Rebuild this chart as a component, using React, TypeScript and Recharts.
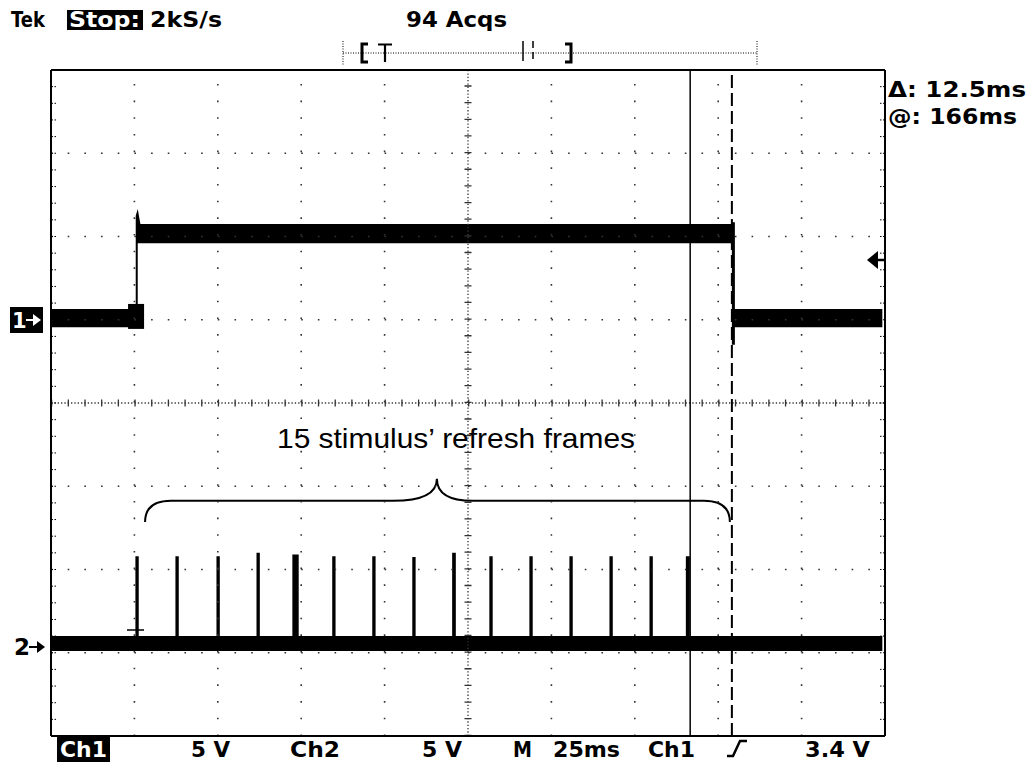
import React from 'react';
import { ComposedChart, Area, XAxis, YAxis, ReferenceLine, ReferenceArea } from 'recharts';

// Graticule: 10 x 8 divisions, 25 ms/div, 5 V/div
const X_DIVS = [0, 25, 50, 75, 100, 125, 150, 175, 200, 225, 250];
const Y_DIVS = [-4, -3, -2, -1, 0, 1, 2, 3, 4];
const X_MINOR = X_DIVS.slice(0, -1).flatMap((d) => [d, d + 5, d + 10, d + 15, d + 20]).concat([250]);
const Y_MINOR = Y_DIVS.slice(0, -1).flatMap((d) => [d, d + 0.2, d + 0.4, d + 0.6, d + 0.8].map((v) => Math.round(v * 10) / 10)).concat([4]);

// Channel 1 (trace envelope: time in ms, low/high edge in divisions)
const ch1Times = [0, 25.4, 25.4, 26.0, 26.0, 26.8, 204.1, 204.1, 205.0, 205.0, 249.2];
const ch1Low = [0.91, 0.91, 0.91, 0.91, 1.92, 1.92, 1.92, 0.70, 0.70, 0.91, 0.91];
const ch1High = [1.13, 1.13, 2.25, 2.33, 2.33, 2.15, 2.15, 2.17, 2.17, 1.13, 1.13];

// Channel 2: baseline band plus 15 refresh spikes
const ch2Start = 0;
const ch2End = 249.2;
const ch2BaseLow = -2.98;
const ch2BaseHigh = -2.8;
const ch2SpikeTimes = [25.8, 37.8, 50.1, 62.1, 73.3, 84.8, 96.8, 108.8, 120.8, 131.9, 143.9, 155.9, 167.9, 179.9, 190.9];
const ch2SpikeTops = [-1.84, -1.84, -1.84, -1.8, -1.82, -1.84, -1.84, -1.85, -1.8, -1.84, -1.84, -1.84, -1.84, -1.84, -1.84];
const ch2SpikeWidths = [1.0, 1.0, 1.0, 1.0, 1.9, 1.0, 1.0, 1.0, 1.1, 1.0, 1.0, 1.0, 1.0, 1.0, 1.2];

// Cursors (ms)
const cursorSolid = 191.6;
const cursorDashed = 204.1;

// Brace annotation extents
const braceStart = 28.2;
const braceEnd = 203.5;
const braceTop = -0.91;
const braceBottom = -1.43;

// Ch1 ground marker box
const boxStart = 23.1;
const boxEnd = 27.9;
const boxLow = 0.89;
const boxHigh = 1.19;

const ch1Data = ch1Times.map((t, i) => ({ t, range: [ch1Low[i], ch1High[i]] }));

const ch2Data = (() => {
  const pts: { t: number; range: number[] }[] = [{ t: ch2Start, range: [ch2BaseLow, ch2BaseHigh] }];
  ch2SpikeTimes.forEach((t, i) => {
    const h = ch2SpikeWidths[i] / 2;
    pts.push({ t: t - h, range: [ch2BaseLow, ch2BaseHigh] });
    pts.push({ t: t - h, range: [ch2BaseLow, ch2SpikeTops[i]] });
    pts.push({ t: t + h, range: [ch2BaseLow, ch2SpikeTops[i]] });
    pts.push({ t: t + h, range: [ch2BaseLow, ch2BaseHigh] });
  });
  pts.push({ t: ch2End, range: [ch2BaseLow, ch2BaseHigh] });
  return pts;
})();

const Brace = (p: any) => {
  const { x, y, width, height } = p;
  const x0 = x;
  const x1 = x + width;
  const yT = y;
  const yB = y + height;
  const yM = y + height * 0.51;
  const xt = x + width * 0.499;
  const d = `M${x0},${yB} Q${x0},${yM} ${x0 + 26},${yM} L${xt - 44},${yM} Q${xt},${yM} ${xt},${yT} Q${xt},${yM} ${xt + 36},${yM} L${x1 - 26},${yM} Q${x1},${yM} ${x1},${yB}`;
  return <path d={d} fill="none" stroke="#000" strokeWidth={2} />;
};

const TEK = '"DejaVu Sans", "Liberation Sans", sans-serif';
const ARIAL = '"Liberation Sans", Arial, sans-serif';

const Overlay = () => (
  <svg width={1034} height={763} style={{ position: 'absolute', left: 0, top: 0, pointerEvents: 'none' }}>
    {/* top status */}
    <g fontFamily={TEK} fontWeight="bold" fontSize={21} fill="#000">
      <text x={11} y={27} fontSize={22} textLength={34} lengthAdjust="spacingAndGlyphs">Tek</text>
      <rect x={67} y={10} width={76} height={20} fill="#000" />
      <text x={69} y={27} fill="#fff" textLength={71} lengthAdjust="spacingAndGlyphs">Stop:</text>
      <text x={150} y={27} textLength={72} lengthAdjust="spacingAndGlyphs">2kS/s</text>
      <text x={406} y={27} textLength={101} lengthAdjust="spacingAndGlyphs">94 Acqs</text>
    </g>
    {/* record bar */}
    <g stroke="#000" fill="none">
      <line x1={343} y1={53} x2={757} y2={53} strokeWidth={1} strokeDasharray="1 1.5" />
      <line x1={343} y1={41} x2={343} y2={65} strokeWidth={1} strokeDasharray="1 1.5" />
      <line x1={757} y1={41} x2={757} y2={65} strokeWidth={1} strokeDasharray="1 1.5" />
      <path d="M368,44 L362,44 L362,62 L368,62" strokeWidth={3} />
      <path d="M378,44.5 L392,44.5 M385,44 L385,62" strokeWidth={2.2} />
      <line x1={523} y1={41} x2={523} y2={61} strokeWidth={1.5} />
      <line x1={533} y1={41} x2={533} y2={61} strokeWidth={1.5} strokeDasharray="7 4" />
      <path d="M565,44 L571,44 L571,62 L565,62" strokeWidth={3} />
    </g>
    {/* right readouts */}
    <g fontFamily={TEK} fontWeight="bold" fontSize={21} fill="#000">
      <text x={888} y={97} textLength={138} lengthAdjust="spacingAndGlyphs">Δ: 12.5ms</text>
      <text x={888} y={124} textLength={129} lengthAdjust="spacingAndGlyphs">@: 166ms</text>
    </g>
    {/* trigger level arrow */}
    <polygon points="867,260 878,251 878,269" fill="#000" />
    <line x1={876} y1={260} x2={885} y2={260} stroke="#000" strokeWidth={2.5} />
    {/* channel markers */}
    <rect x={10} y={307} width={33} height={26} fill="#000" />
    <text x={12} y={328} fontFamily={TEK} fontWeight="bold" fontSize={21} fill="#fff">1</text>
    <line x1={26} y1={320} x2={35} y2={320} stroke="#fff" strokeWidth={2} />
    <polygon points="41,320 33,314 33,326" fill="#fff" />
    <text x={14} y={655} fontFamily={TEK} fontWeight="bold" fontSize={23} fill="#000">2</text>
    <line x1={29} y1={647} x2={38} y2={647} stroke="#000" strokeWidth={2} />
    <polygon points="45,647 37,641 37,653" fill="#000" />
    {/* ch2 cursor cross */}
    <path d="M127,630 L144,630 M137,621 L137,639" stroke="#000" strokeWidth={1.5} />
    {/* bottom status */}
    <g fontFamily={TEK} fontWeight="bold" fontSize={22} fill="#000">
      <rect x={57} y={737} width={53} height={25} fill="#000" />
      <text x={60} y={757} fill="#fff" textLength={47} lengthAdjust="spacingAndGlyphs">Ch1</text>
      <text x={191} y={757} textLength={39} lengthAdjust="spacingAndGlyphs">5 V</text>
      <text x={290} y={757} textLength={50} lengthAdjust="spacingAndGlyphs">Ch2</text>
      <text x={422} y={757} textLength={40} lengthAdjust="spacingAndGlyphs">5 V</text>
      <text x={513} y={757} textLength={19} lengthAdjust="spacingAndGlyphs">M</text>
      <text x={553} y={757} textLength={67} lengthAdjust="spacingAndGlyphs">25ms</text>
      <text x={648} y={757} textLength={47} lengthAdjust="spacingAndGlyphs">Ch1</text>
      <text x={805} y={757} textLength={65} lengthAdjust="spacingAndGlyphs">3.4 V</text>
    </g>
    <path d="M727,756 L733,756 L740,741 L747,741" stroke="#000" strokeWidth={2.5} fill="none" />
    {/* annotation */}
    <text x={277} y={448} fontFamily={ARIAL} fontSize={28} fill="#000" textLength={358} lengthAdjust="spacingAndGlyphs">15 stimulus’ refresh frames</text>
  </svg>
);

export default function App() {
  const innerX = X_DIVS.filter((d) => d !== 0 && d !== 250 && d !== 125);
  const innerY = Y_DIVS.filter((d) => d !== -4 && d !== 4 && d !== 0);
  const tickFmt = () => '';
  return (
    <div style={{ position: 'absolute', left: 0, top: 0, width: 1034, height: 763, background: '#fff' }}>
      <ComposedChart width={1034} height={763} margin={{ top: 70, right: 149, bottom: 27, left: 51 }}>
        <XAxis xAxisId={0} type="number" dataKey="t" domain={[0, 250]} allowDataOverflow hide />
        <YAxis yAxisId={0} type="number" domain={[-4, 4]} allowDataOverflow hide />
        <XAxis xAxisId="bt" orientation="bottom" mirror type="number" domain={[0, 250]} allowDataOverflow ticks={X_MINOR} interval={0} tickFormatter={tickFmt} tickSize={5} tickLine={{ stroke: '#000', strokeDasharray: '1.5 1.5' }} axisLine={{ stroke: '#000', strokeWidth: 2 }} />
        <XAxis xAxisId="tp" orientation="top" mirror type="number" domain={[0, 250]} allowDataOverflow ticks={X_MINOR} interval={0} tickFormatter={tickFmt} tickSize={5} tickLine={{ stroke: '#000', strokeDasharray: '1.5 1.5' }} axisLine={{ stroke: '#000', strokeWidth: 2 }} />
        <YAxis yAxisId="lf" orientation="left" mirror type="number" domain={[-4, 4]} allowDataOverflow ticks={Y_MINOR} interval={0} tickFormatter={tickFmt} tickSize={5} tickLine={{ stroke: '#000', strokeDasharray: '1.5 1.5' }} axisLine={{ stroke: '#000', strokeWidth: 2 }} />
        <YAxis yAxisId="rt" orientation="right" mirror type="number" domain={[-4, 4]} allowDataOverflow ticks={Y_MINOR} interval={0} tickFormatter={tickFmt} tickSize={5} tickLine={{ stroke: '#000', strokeDasharray: '1.5 1.5' }} axisLine={{ stroke: '#000', strokeWidth: 2 }} />

        {innerX.map((d) => (
          <ReferenceLine key={'gx' + d} x={d} stroke="#333" strokeWidth={1.6} strokeDasharray="1.6 15.08" />
        ))}
        {innerY.map((d) => (
          <ReferenceLine key={'gy' + d} y={d} stroke="#333" strokeWidth={1.6} strokeDasharray="1.6 15.08" />
        ))}
        <ReferenceLine x={125} stroke="#333" strokeWidth={1.3} strokeDasharray="1.3 2.04" />
        <ReferenceLine x={125} stroke="#333" strokeWidth={7} strokeDasharray="1.3 15.35" />
        <ReferenceLine y={0} stroke="#333" strokeWidth={1.3} strokeDasharray="1.3 2.04" />
        <ReferenceLine y={0} stroke="#333" strokeWidth={7} strokeDasharray="1.3 15.38" />

        <Area data={ch1Data} dataKey="range" type="linear" stroke="none" fill="#000" fillOpacity={1} isAnimationActive={false} />
        <Area data={ch2Data} dataKey="range" type="linear" stroke="none" fill="#000" fillOpacity={1} isAnimationActive={false} />
        <ReferenceArea x1={boxStart} x2={boxEnd} y1={boxLow} y2={boxHigh} fill="#000" fillOpacity={1} stroke="none" />

        <ReferenceLine x={cursorSolid} stroke="#000" strokeWidth={1.5} />
        <ReferenceLine x={cursorDashed} stroke="#000" strokeWidth={2} strokeDasharray="13 5" />
        <ReferenceArea x1={braceStart} x2={braceEnd} y1={braceBottom} y2={braceTop} shape={Brace} />
      </ComposedChart>
      <Overlay />
    </div>
  );
}
